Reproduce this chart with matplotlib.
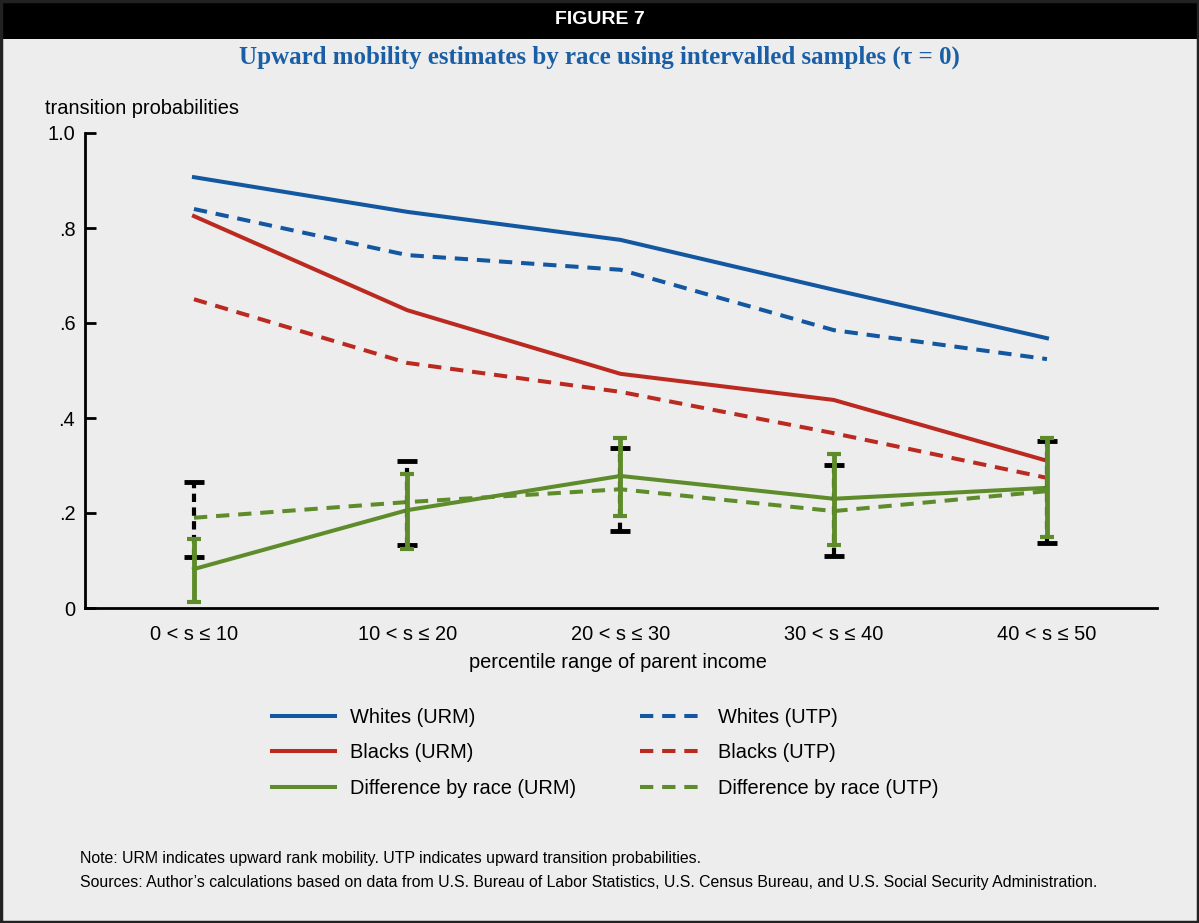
import numpy as np
import matplotlib.pyplot as plt
from matplotlib.patches import Rectangle

plt.rcParams['font.family'] = ['Liberation Sans', 'DejaVu Sans']

# data
categories = ["0 < s \u2264 10", "10 < s \u2264 20", "20 < s \u2264 30", "30 < s \u2264 40", "40 < s \u2264 50"]
whites_urm = [0.907, 0.834, 0.775, 0.670, 0.568]
whites_utp = [0.840, 0.743, 0.712, 0.585, 0.524]
blacks_urm = [0.825, 0.627, 0.493, 0.438, 0.310]
blacks_utp = [0.650, 0.516, 0.455, 0.368, 0.274]
diff_urm = [0.082, 0.206, 0.278, 0.230, 0.253]
diff_utp = [0.190, 0.223, 0.250, 0.204, 0.246]
# confidence bands (lower, upper)
diff_urm_lo = [0.013, 0.124, 0.194, 0.133, 0.149]
diff_urm_hi = [0.145, 0.282, 0.358, 0.324, 0.358]
diff_utp_lo = [0.107, 0.133, 0.162, 0.109, 0.137]
diff_utp_hi = [0.265, 0.310, 0.337, 0.301, 0.352]
yticks = [0, 0.2, 0.4, 0.6, 0.8, 1.0]
ytick_labels = ["0", ".2", ".4", ".6", ".8", "1.0"]

blue = "#1257a0"
red = "#bb2a21"
green = "#5e8c2b"
bg = "#ededed"
fs = 14.4

W, H = 1199, 923
fig = plt.figure(figsize=(W / 100, H / 100), dpi=100, facecolor=bg)

# header band and border
fig.patches.append(Rectangle((0, 1 - 39 / H), 1, 39 / H, transform=fig.transFigure,
                             facecolor="black", edgecolor="none", zorder=0))
fig.patches.append(Rectangle((0.001, 0.001), 0.998, 0.998, transform=fig.transFigure,
                             facecolor="none", edgecolor="#222222", lw=2.5, zorder=5))
fig.text(0.5, 1 - 19 / H, "FIGURE 7", color="white", fontsize=14, fontweight="bold",
         ha="center", va="center")
fig.text(0.5, 1 - 57 / H, "Upward mobility estimates by race using intervalled samples (\u03c4 = 0)",
         color="#1a5fa6", fontsize=18, fontweight="bold", family="Liberation Serif",
         ha="center", va="center")

ax = fig.add_axes([85 / W, 1 - 608 / H, (1157 - 85) / W, (608 - 133) / H])
ax.set_facecolor(bg)
x = np.arange(len(categories))

lw = 2.9
dash = (0, (3.3, 2.2))
ax.plot(x, whites_urm, color=blue, lw=lw, label="Whites (URM)")
ax.plot(x, blacks_urm, color=red, lw=lw, label="Blacks (URM)")
ax.plot(x, diff_urm, color=green, lw=lw, label="Difference by race (URM)")
ax.plot(x, whites_utp, color=blue, lw=lw, ls=dash, label="Whites (UTP)")
ax.plot(x, blacks_utp, color=red, lw=lw, ls=dash, label="Blacks (UTP)")
ax.plot(x, diff_utp, color=green, lw=lw, ls=dash, label="Difference by race (UTP)")

utp_err = [np.array(diff_utp) - np.array(diff_utp_lo), np.array(diff_utp_hi) - np.array(diff_utp)]
eb = ax.errorbar(x, diff_utp, yerr=utp_err, fmt="none", ecolor="black", elinewidth=3,
                 capsize=7, capthick=3.5, zorder=3)
eb[2][0].set_linestyle((0, (2.0, 1.3)))
urm_err = [np.array(diff_urm) - np.array(diff_urm_lo), np.array(diff_urm_hi) - np.array(diff_urm)]
ax.errorbar(x, diff_urm, yerr=urm_err, fmt="none", ecolor=green, elinewidth=3.5,
            capsize=5, capthick=3, zorder=4)

ax.set_xlim(-0.511, 4.516)
ax.set_ylim(0, 1.0)
ax.set_xticks(x)
ax.set_xticklabels(categories, fontsize=fs)
ax.set_yticks(yticks)
ax.set_yticklabels(ytick_labels, fontsize=fs)
ax.tick_params(axis="x", length=0, pad=12)
ax.tick_params(axis="y", direction="in", length=8, width=2, pad=7)
for s in ["top", "right"]:
    ax.spines[s].set_visible(False)
for s in ["left", "bottom"]:
    ax.spines[s].set_linewidth(2)

fig.text(45 / W, 1 - 108 / H, "transition probabilities", fontsize=fs, va="center")
fig.text(618 / W, 1 - 662 / H, "percentile range of parent income", fontsize=fs,
         ha="center", va="center")

handles, labels = ax.get_legend_handles_labels()
fig.legend(handles, labels, ncol=2, frameon=False, fontsize=fs,
           loc="upper left", bbox_to_anchor=(272 / W, 1 - 708 / H),
           borderpad=0, borderaxespad=0,
           handlelength=3.15, handletextpad=0.75, columnspacing=3.2, labelspacing=0.82)

fig.text(80 / W, 1 - 858 / H, "Note: URM indicates upward rank mobility. UTP indicates upward transition probabilities.",
         fontsize=11.4, va="center")
fig.text(80 / W, 1 - 883 / H, "Sources: Author\u2019s calculations based on data from U.S. Bureau of Labor Statistics, "
         "U.S. Census Bureau, and U.S. Social Security Administration.", fontsize=11.4, va="center")

fig.savefig("out.png", dpi=100, facecolor=bg)
